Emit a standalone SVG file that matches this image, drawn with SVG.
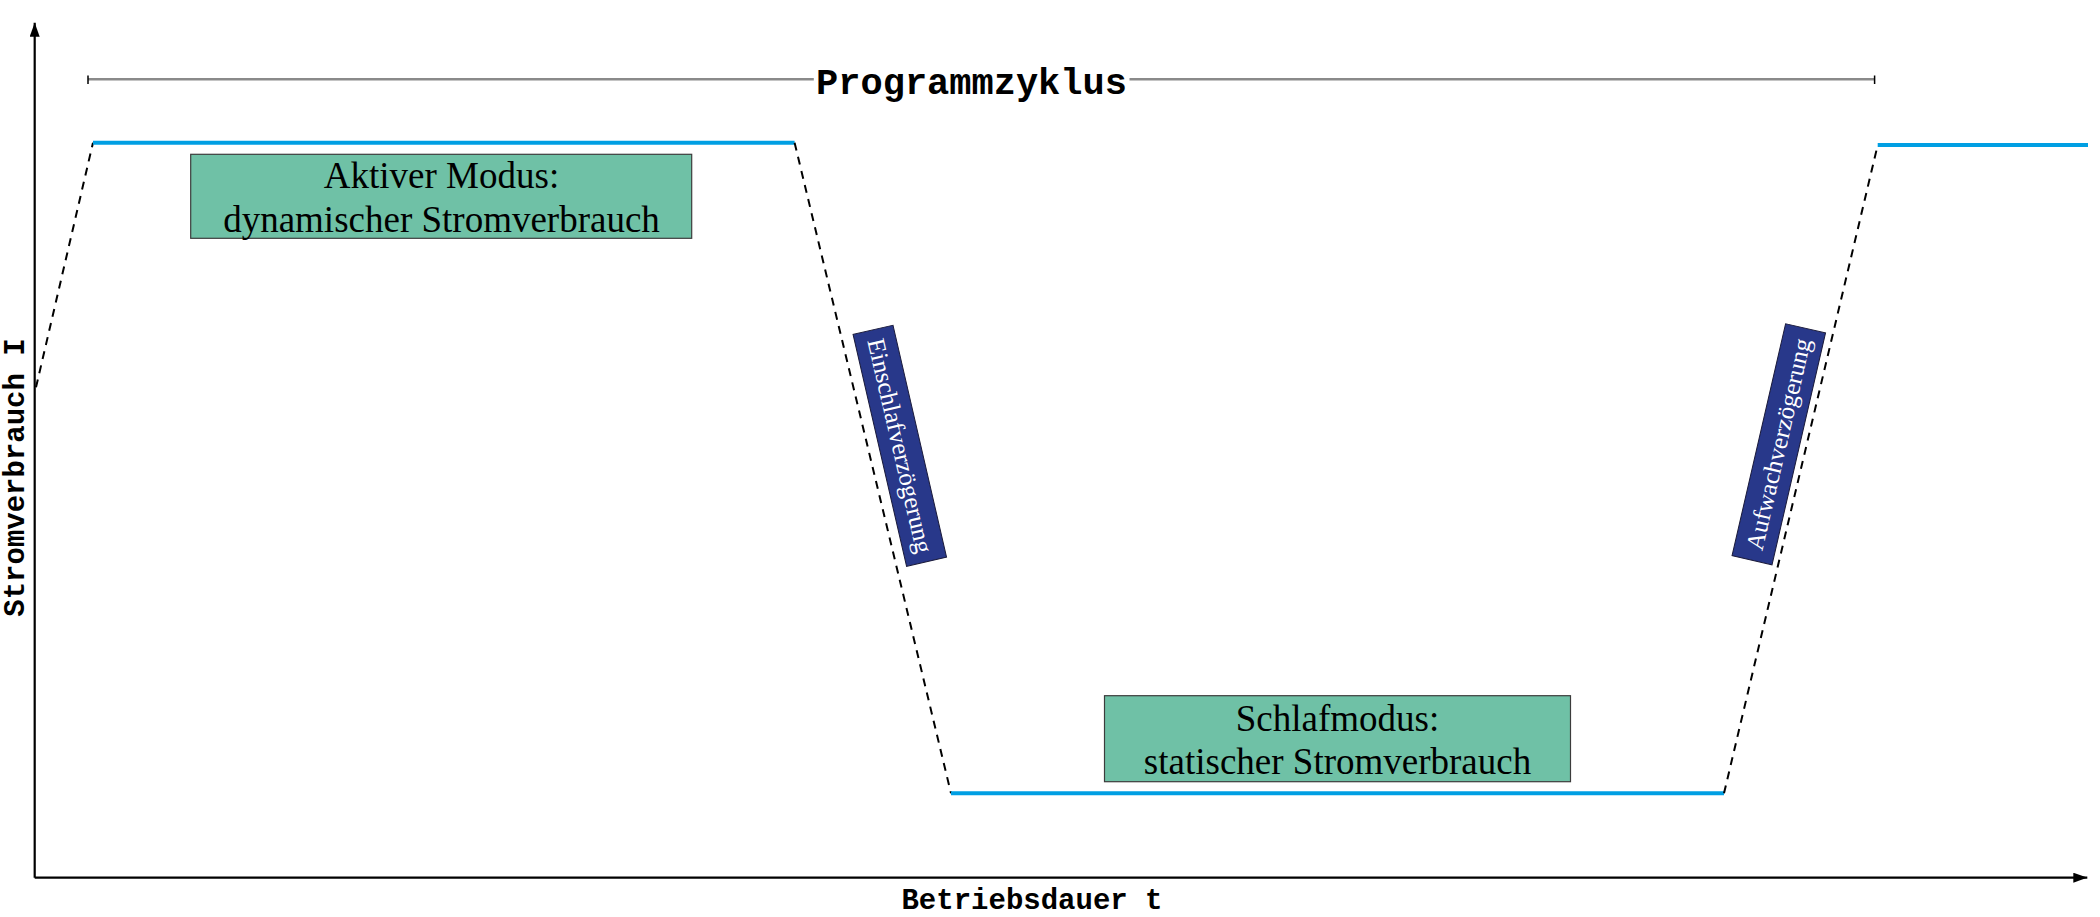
<svg xmlns="http://www.w3.org/2000/svg" width="2100" height="917" viewBox="0 0 2100 917">
  <style>
    .axis { stroke: #000; stroke-width: 2.2; fill: none; }
    .level { stroke: #009fe3; stroke-width: 4; fill: none; }
    .trans { stroke: #000; stroke-width: 2; stroke-dasharray: 8 6.5; fill: none; }
    .span { stroke: #8a8a8a; stroke-width: 2.5; fill: none; }
    .tick { stroke: #000; stroke-width: 1.5; }
    .mono { font-family: "Liberation Mono", "Courier New", monospace; font-weight: bold; fill: #000; }
    .green { fill: #6fc1a6; stroke: #3c3c3c; stroke-width: 1.2; }
    .navy { fill: #28388a; stroke: #1a1a3a; stroke-width: 1; }
    .serif { font-family: "Liberation Serif", "Times New Roman", serif; font-size: 37px; fill: #000; text-anchor: middle; }
    .wserif { font-family: "Liberation Serif", "Times New Roman", serif; font-size: 25px; fill: #fff; text-anchor: middle; }
  </style>
  <defs>
    <marker id="arrow" markerUnits="userSpaceOnUse" markerWidth="14" markerHeight="10" refX="14" refY="5" orient="auto">
      <path d="M0,0 L14,5 L0,10 z" fill="#000"/>
    </marker>
  </defs>
  <rect x="0" y="0" width="2100" height="917" fill="#fff"/>

  <g id="axes">
    <line class="axis" x1="34.7" y1="877.7" x2="34.7" y2="22.7" marker-end="url(#arrow)"/>
    <line class="axis" x1="34.7" y1="877.7" x2="2087.3" y2="877.7" marker-end="url(#arrow)"/>
    <text class="mono" font-size="29" text-anchor="middle" transform="translate(23.5,477.5) rotate(-90)">Stromverbrauch I</text>
    <text class="mono" font-size="29" text-anchor="middle" x="1032" y="908.5">Betriebsdauer t</text>
  </g>

  <g id="programmzyklus">
    <line class="span" x1="88" y1="79.3" x2="813.8" y2="79.3"/>
    <line class="span" x1="1129.5" y1="79.3" x2="1874.6" y2="79.3"/>
    <line class="tick" x1="88" y1="75.5" x2="88" y2="84"/>
    <line class="tick" x1="1874.6" y1="75.5" x2="1874.6" y2="84"/>
    <text class="mono" font-size="37" text-anchor="middle" x="971.5" y="94">Programmzyklus</text>
  </g>

  <g id="connectors">
    <line class="trans" x1="36" y1="387.3" x2="93" y2="142.7"/>
    <line class="level" x1="93" y1="142.7" x2="794.6" y2="142.7"/>
    <line class="trans" x1="794.6" y1="142.7" x2="951" y2="793.3"/>
    <line class="level" x1="951" y1="793.3" x2="1724" y2="793.3"/>
    <line class="trans" x1="1724" y1="793.3" x2="1877.7" y2="145"/>
    <line class="level" x1="1877.7" y1="145" x2="2088" y2="145"/>
  </g>

  <g id="aktiver-modus">
    <rect class="green" x="190.7" y="154.3" width="501" height="84"/>
    <text class="serif" x="441.5" y="188.3">Aktiver Modus:</text>
    <text class="serif" x="441.5" y="231.7">dynamischer Stromverbrauch</text>
  </g>

  <g id="schlafmodus">
    <rect class="green" x="1104.5" y="695.7" width="466" height="86"/>
    <text class="serif" x="1337.5" y="730.5">Schlafmodus:</text>
    <text class="serif" x="1337.5" y="773.5">statischer Stromverbrauch</text>
  </g>

  <g id="einschlafverzoegerung" transform="translate(899.8,445.8) rotate(77)">
    <rect class="navy" x="-119" y="-20.5" width="238" height="41"/>
    <text class="wserif" x="0" y="8">Einschlafverzögerung</text>
  </g>

  <g id="aufwachverzoegerung" transform="translate(1778.8,444.3) rotate(-77)">
    <rect class="navy" x="-119" y="-20.5" width="238" height="41"/>
    <text class="wserif" x="0" y="8">Aufwachverzögerung</text>
  </g>
</svg>
